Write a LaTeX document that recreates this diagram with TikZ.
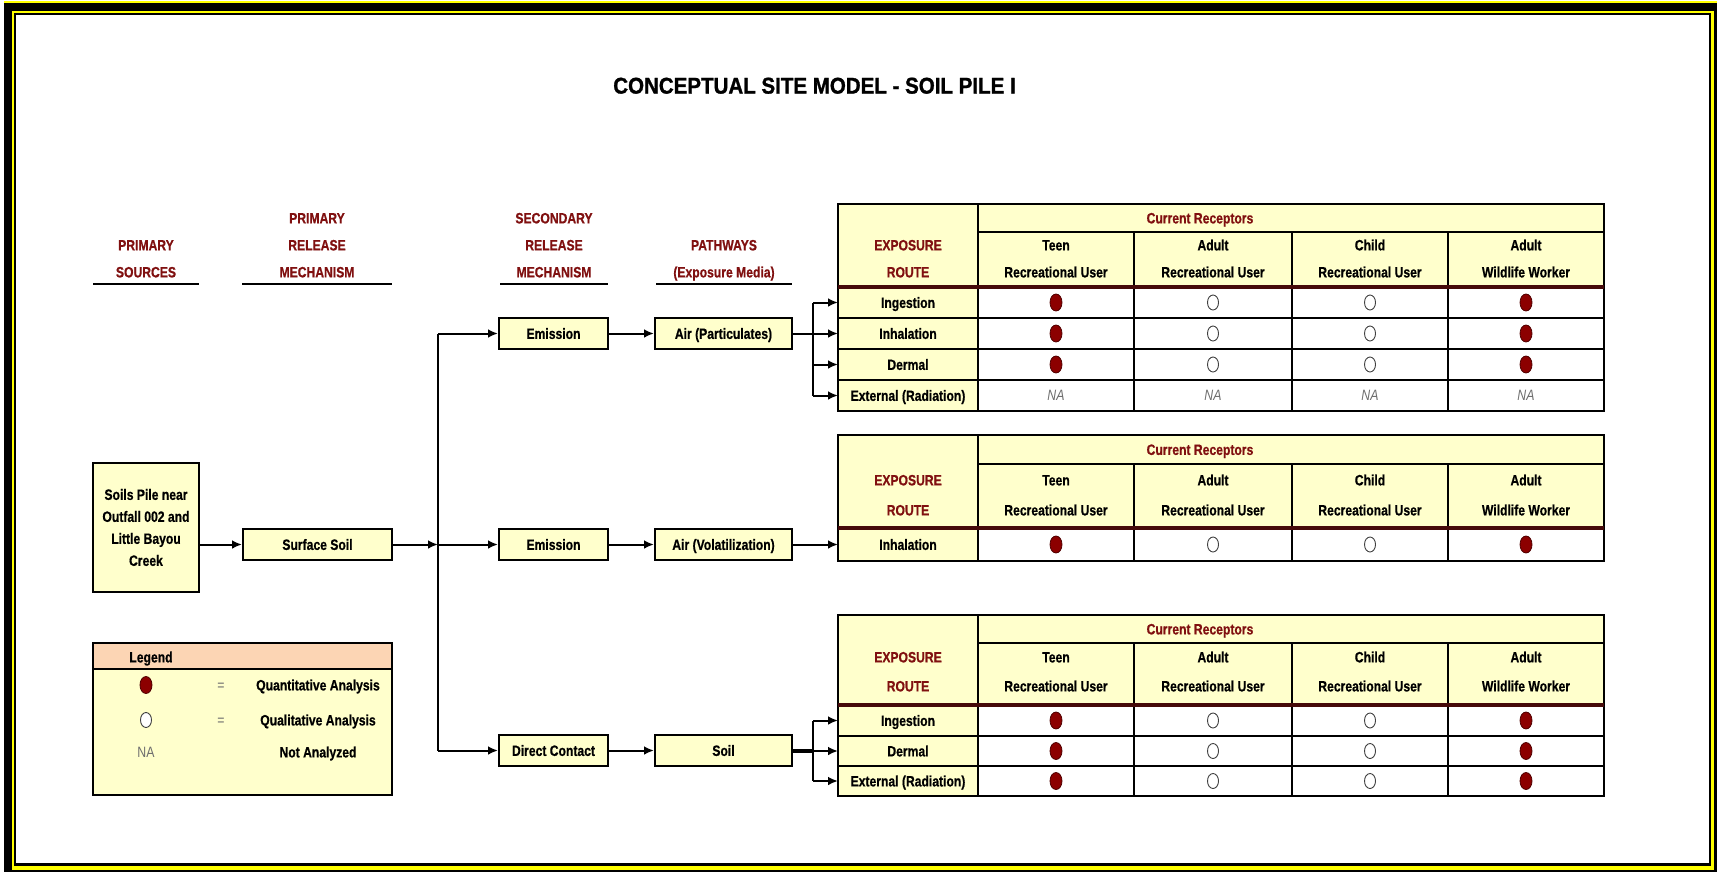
\documentclass[tikz,border=0pt]{standalone}
\usepackage{fontspec}
\setmainfont{Liberation Sans}
\newfontfamily\nar[FakeStretch=0.82]{Liberation Sans}
\newfontfamily\narb[FakeStretch=0.81,FakeBold=0.6]{Liberation Sans}
\newfontfamily\titlefont[FakeStretch=0.9,FakeBold=1.2]{Liberation Sans}
\usetikzlibrary{arrows.meta,shapes.geometric}
\definecolor{cream}{RGB}{255,255,204}
\definecolor{hdr}{RGB}{128,16,16}
\definecolor{dotred}{RGB}{140,0,0}
\definecolor{dotedge}{RGB}{80,0,0}
\definecolor{peach}{RGB}{252,213,180}
\definecolor{sepc}{RGB}{70,10,10}
\definecolor{grayt}{RGB}{110,110,110}
\definecolor{frameyellow}{RGB}{255,255,0}
\newcommand\mkfdot{}
\newcommand\mkodot{}
\newcommand\mkna{NA}
\newcommand\TabHead[6]{%
  \fill[cream] (838,#2) rectangle (1604,#4);
  \draw[inner] (978,#2) -- (978,#4);
  \draw[inner] (978,#3) -- (1604,#3);
  \foreach \xx in {1134,1292,1448} \draw[inner] (\xx,#3) -- (\xx,#4);
  \node[hd] (#1cr) at (1200,{(#2+#3)/2}) {Current Receptors};
  \node[hd] (#1ex) at (908,#5) {EXPOSURE};
  \node[hd] (#1ro) at (908,#6) {ROUTE};
  \node[txt] (#1ta) at (1056,#5) {Teen};
  \node[txt] (#1tb) at (1056,#6) {Recreational User};
  \node[txt] (#1aa) at (1213,#5) {Adult};
  \node[txt] (#1ab) at (1213,#6) {Recreational User};
  \node[txt] (#1ca) at (1370,#5) {Child};
  \node[txt] (#1cb) at (1370,#6) {Recreational User};
  \node[txt] (#1wa) at (1526,#5) {Adult};
  \node[txt] (#1wb) at (1526,#6) {Wildlife Worker};
}
\newcommand\DataRow[8]{%
  \fill[cream] (838,#2) rectangle (978,#3);
  \fill[white] (978,#2) rectangle (1604,#3);
  \foreach \xa/\xb in {838/978,978/1134,1134/1292,1292/1448,1448/1604}
     \draw[inner] (\xa,#2) rectangle (\xb,#3);
  \coordinate (#1) at (838,{(#2+#3)/2});
  \node[txt] (#1l) at (908,{(#2+#3)/2}) {#4};
  \node[#5] (#1a) at (1056,{(#2+#3)/2}) {\csname mk#5\endcsname};
  \node[#6] (#1b) at (1213,{(#2+#3)/2}) {\csname mk#6\endcsname};
  \node[#7] (#1c) at (1370,{(#2+#3)/2}) {\csname mk#7\endcsname};
  \node[#8] (#1d) at (1526,{(#2+#3)/2}) {\csname mk#8\endcsname};
}
\newcommand\TabFrame[3]{%
  \draw[line width=1.4pt] (838,#1) rectangle (1604,#3);
  \draw[sepc, line width=1.6pt] (838,#2) -- (1604,#2);
}
\begin{document}
\begin{tikzpicture}[x=0.5pt,y=-0.5pt,
  txt/.style={font=\narb\bfseries\fontsize{7.5}{9}\selectfont, text height=5.4pt, text depth=0pt, inner sep=0pt},
  hd/.style={txt, text=hdr},
  gtxt/.style={font=\nar\fontsize{7.5}{9}\selectfont, text=grayt, text height=5.4pt, text depth=0pt, inner sep=0pt},
  na/.style={font=\nar\itshape\fontsize{7.5}{9}\selectfont, text=grayt, text height=5.4pt, text depth=0pt, inner sep=0pt},
  fdot/.style={ellipse, draw=dotedge, fill=dotred, minimum width=6pt, minimum height=8.5pt, inner sep=0pt, line width=0.4pt},
  odot/.style={ellipse, draw=black!75, fill=white, minimum width=5.5pt, minimum height=7.5pt, inner sep=0pt, line width=0.45pt},
  inner/.style={line width=0.75pt},
  box/.style={txt, draw, line width=1pt, fill=cream, minimum height=15.5pt},
  arr/.style={-{Latex[length=5pt,width=4.4pt]}, line width=1pt},
  conn/.style={line width=1pt},
  uline/.style={line width=1pt},
  titletxt/.style={font=\titlefont\bfseries\fontsize{11.4}{13}\selectfont, text height=8.1pt, text depth=0pt, inner sep=0pt}
]
\useasboundingbox (0,0) rectangle (1717,872);
% frame
\fill[white] (0,0) rectangle (1717,872);
\fill[black] (4,3) rectangle (1717,872);
\fill[frameyellow] (4,1.5) rectangle (1717,3.2);
\fill[frameyellow] (12,11) rectangle (1714,870);
\fill[black] (14,13) rectangle (1711,866);
\fill[white] (16,15) rectangle (1709,863);

% title
\node[titletxt] (title) at (814.5,85.5) {CONCEPTUAL SITE MODEL - SOIL PILE I};

% column headings
\node[hd] (h1a) at (146,245) {PRIMARY};
\node[hd] (h1b) at (146,272) {SOURCES};
\node[hd] (h2a) at (317,218) {PRIMARY};
\node[hd] (h2b) at (317,245) {RELEASE};
\node[hd] (h2c) at (317,272) {MECHANISM};
\node[hd] (h3a) at (554,218) {SECONDARY};
\node[hd] (h3b) at (554,245) {RELEASE};
\node[hd] (h3c) at (554,272) {MECHANISM};
\node[hd] (h4a) at (724,245) {PATHWAYS};
\node[hd] (h4b) at (724,272) {(Exposure Media)};
\draw[uline] (93,284) -- (199,284);
\draw[uline] (242,284) -- (392,284);
\draw[uline] (500,284) -- (608,284);
\draw[uline] (656,284) -- (792,284);

% flow boxes
\node[draw, line width=1.3pt, fill=cream, font=\narb\bfseries\fontsize{7.5}{11}\selectfont, align=center,
      minimum width=53pt, minimum height=64.5pt, inner sep=1pt] (src) at (146,527.5)
      {Soils Pile near\\Outfall 002 and\\Little Bayou\\Creek};
\node[box, minimum width=74.5pt] (surf) at (317.5,544.5) {Surface Soil};
\node[box, minimum width=54.5pt] (em1) at (553.5,333.5) {Emission};
\node[box, minimum width=68.5pt] (airp) at (723.5,333.5) {Air (Particulates)};
\node[box, minimum width=54.5pt] (em2) at (553.5,544.5) {Emission};
\node[box, minimum width=68.5pt] (airv) at (723.5,544.5) {Air (Volatilization)};
\node[box, minimum width=54.5pt] (dc) at (553.5,750.5) {Direct Contact};
\node[box, minimum width=68.5pt] (soil) at (723.5,750.5) {Soil};

% table 1
\TabHead{ta}{204}{232}{287}{245}{272}
\DataRow{tar1}{287}{318}{Ingestion}{fdot}{odot}{odot}{fdot}
\DataRow{tar2}{318}{349}{Inhalation}{fdot}{odot}{odot}{fdot}
\DataRow{tar3}{349}{380}{Dermal}{fdot}{odot}{odot}{fdot}
\DataRow{tar4}{380}{411}{External (Radiation)}{na}{na}{na}{na}
\TabFrame{204}{287}{411}

% table 2
\TabHead{tb}{435}{464}{528}{480}{510}
\DataRow{tbr1}{528}{561}{Inhalation}{fdot}{odot}{odot}{fdot}
\TabFrame{435}{528}{561}

% table 3
\TabHead{tc}{615}{643}{705}{657}{686}
\DataRow{tcr1}{705}{736}{Ingestion}{fdot}{odot}{odot}{fdot}
\DataRow{tcr2}{736}{766}{Dermal}{fdot}{odot}{odot}{fdot}
\DataRow{tcr3}{766}{796}{External (Radiation)}{fdot}{odot}{odot}{fdot}
\TabFrame{615}{705}{796}

% connectors
\coordinate (tr1) at (438,333.5);
\coordinate (tr2) at (438,544.5);
\coordinate (tr3) at (438,750.5);
\draw[arr] (src.east |- surf) -- (surf);
\draw[conn] (tr1) -- (tr3);
\draw[arr] (surf) -- (tr2);
\draw[arr] (tr1) -- (em1);
\draw[arr] (tr2) -- (em2);
\draw[arr] (tr3) -- (dc);
\draw[arr] (em1) -- (airp);
\draw[arr] (em2) -- (airv);
\draw[arr] (dc) -- (soil);

\coordinate (b1) at (813,333.5);
\draw[conn] (airp) -- (b1);
\draw[conn] (b1 |- tar1) -- (b1 |- tar4);
\foreach \r in {tar1,tar2,tar3,tar4} \draw[arr] (b1 |- \r) -- (\r);

\draw[arr] (airv) -- (tbr1);

\coordinate (b3) at (813,750.5);
\draw[line width=2pt] (soil) -- (b3);
\draw[conn] (b3 |- tcr1) -- (b3 |- tcr3);
\foreach \r in {tcr1,tcr2,tcr3} \draw[arr] (b3 |- \r) -- (\r);

% legend
\fill[cream] (93,643) rectangle (392,795);
\fill[peach] (93,643) rectangle (392,669);
\draw[inner] (93,669) -- (392,669);
\draw[line width=1.3pt] (93,643) rectangle (392,795);
\node[txt, anchor=west] (lg) at (129,657) {Legend};
\node[fdot] (lgf) at (146,685) {};
\node[gtxt] (lge1) at (221,685) {=};
\node[txt] (lgq) at (318,685) {Quantitative Analysis};
\node[odot] (lgo) at (146,720) {};
\node[gtxt] (lge2) at (221,720) {=};
\node[txt] (lgl) at (318,720) {Qualitative Analysis};
\node[gtxt] (lgn) at (146,752) {NA};
\node[txt] (lgna) at (318,752) {Not Analyzed};
\end{tikzpicture}
\end{document}
